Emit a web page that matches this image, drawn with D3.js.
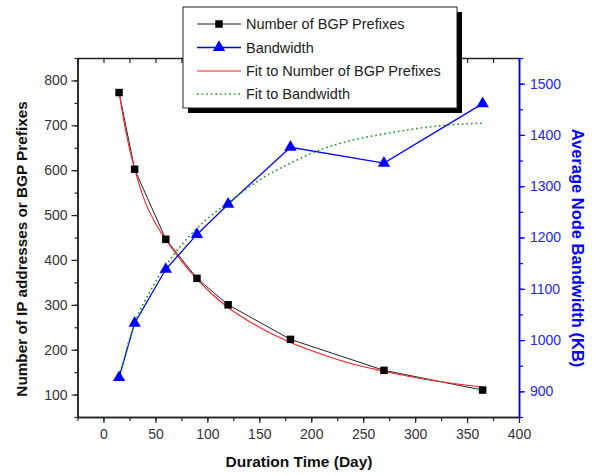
<!DOCTYPE html>
<html>
<head>
<meta charset="utf-8">
<script src="https://cdn.jsdelivr.net/npm/d3@7"></script>
<style>
  html, body { margin: 0; padding: 0; background: #fff; }
  svg { display: block; font-family: "Liberation Sans", Arial, sans-serif; }
</style>
</head>
<body>
<svg id="chart" width="595" height="475"></svg>
<script>
// ---- data ----
const days = [15, 30, 60, 90, 120, 180, 270, 365];
const prefixes = [773, 602, 446, 359, 300, 223, 154, 110];
const bandwidth = [927, 1033, 1138, 1206, 1265, 1376, 1345, 1461];

// fit curves
const fitPrefixDays = [15, 20, 25, 30, 40, 50, 60, 75, 90, 105, 120, 150, 180, 210, 240, 270, 300, 330, 365];
const fitPrefixVals = [775, 705, 648, 603, 530, 482, 445, 398, 357, 323, 294, 250, 216, 190, 168, 152, 138, 127, 117];
const fitBwDays = [15, 20, 30, 45, 60, 75, 90, 105, 120, 150, 180, 210, 240, 270, 300, 330, 365];
const fitBwVals = [922, 965, 1032, 1095, 1145, 1185, 1218, 1245, 1268, 1312, 1345, 1372, 1390, 1402, 1412, 1419, 1423];

const xTicks = [0, 50, 100, 150, 200, 250, 300, 350, 400];
const yLeftTicks = [100, 200, 300, 400, 500, 600, 700, 800];
const yRightTicks = [900, 1000, 1100, 1200, 1300, 1400, 1500];

const legendLabels = ["Number of BGP Prefixes", "Bandwidth", "Fit to Number of BGP Prefixes", "Fit to Bandwidth"];

const xTitle = "Duration Time (Day)";
const yLeftTitle = "Number of IP addresses or BGP Prefixes";
const yRightTitle = "Average Node Bandwidth (KB)";

// ---- layout ----
const L = 77.5, R = 519, T = 58, B = 417;
const BLUE = "#0000ff";

const svg = d3.select("#chart");
const x = d3.scaleLinear().domain([-25, 400]).range([L, R]);
const yL = d3.scaleLinear().domain([50, 850]).range([B, T]);
const yR = d3.scaleLinear().domain([850, 1550]).range([B, T]);

function styleAxis(g, color, textColor) {
  g.selectAll("path.domain").attr("stroke", color).attr("stroke-width", 1.5);
  g.selectAll(".tick line").attr("stroke", color).attr("stroke-width", 1.2);
  g.selectAll(".tick text").attr("fill", textColor).style("font-size", "14px")
    .style("font-family", '"Liberation Sans", Arial, sans-serif');
}

// bottom axis: minor ticks every 25
const xMinor = d3.range(-25, 401, 25);
svg.append("g").attr("transform", `translate(0,${B})`)
  .call(d3.axisBottom(x).tickValues(xMinor).tickSize(4).tickFormat("").tickSizeOuter(0))
  .call(g => styleAxis(g, "#222", "#333"));
svg.append("g").attr("transform", `translate(0,${B})`)
  .call(d3.axisBottom(x).tickValues(xTicks).tickSize(6).tickPadding(6).tickFormat(d3.format("d")).tickSizeOuter(0))
  .call(g => styleAxis(g, "#222", "#333"));

// top axis: ticks pointing inward
svg.append("g").attr("transform", `translate(0,${T})`)
  .call(d3.axisBottom(x).tickValues(xMinor).tickSize(5).tickFormat("").tickSizeOuter(0))
  .call(g => styleAxis(g, "#222", "#333"));

// left axis
svg.append("g").attr("transform", `translate(${L},0)`)
  .call(d3.axisLeft(yL).tickValues(d3.range(50, 851, 50)).tickSize(3).tickFormat("").tickSizeOuter(0))
  .call(g => styleAxis(g, "#222", "#333"));
svg.append("g").attr("transform", `translate(${L},0)`)
  .call(d3.axisLeft(yL).tickValues(yLeftTicks).tickSize(6).tickPadding(4).tickFormat(d3.format("d")).tickSizeOuter(0))
  .call(g => styleAxis(g, "#222", "#333"));

// right axis (blue)
svg.append("g").attr("transform", `translate(${R},0)`)
  .call(d3.axisRight(yR).tickValues(d3.range(850, 1551, 50)).tickSize(4).tickFormat("").tickSizeOuter(0))
  .call(g => styleAxis(g, BLUE, BLUE));
svg.append("g").attr("transform", `translate(${R},0)`)
  .call(d3.axisRight(yR).tickValues(yRightTicks).tickSize(6).tickPadding(5).tickFormat(d3.format("d")).tickSizeOuter(0))
  .call(g => styleAxis(g, BLUE, "#2222ff"));

// ---- series ----
const fitP = fitPrefixDays.map((d, i) => [d, fitPrefixVals[i]]);
const fitB = fitBwDays.map((d, i) => [d, fitBwVals[i]]);
const ptsP = days.map((d, i) => [d, prefixes[i]]);
const ptsB = days.map((d, i) => [d, bandwidth[i]]);

const lineL = d3.line().x(d => x(d[0])).y(d => yL(d[1]));
const lineR = d3.line().x(d => x(d[0])).y(d => yR(d[1]));

svg.append("path").datum(ptsP).attr("d", lineL)
  .attr("fill", "none").attr("stroke", "#222").attr("stroke-width", 1);
svg.append("path").datum(fitP).attr("d", lineL.curve(d3.curveMonotoneX))
  .attr("fill", "none").attr("stroke", "#ff2020").attr("stroke-width", 1.1);
lineL.curve(d3.curveLinear);

svg.append("path").datum(ptsB).attr("d", lineR)
  .attr("fill", "none").attr("stroke", BLUE).attr("stroke-width", 1.3);
svg.append("path").datum(fitB).attr("d", lineR.curve(d3.curveMonotoneX))
  .attr("fill", "none").attr("stroke", "#1a9a1a").attr("stroke-width", 1.6)
  .attr("stroke-dasharray", "1.6,3");
lineR.curve(d3.curveLinear);

const sq = d3.symbol().type(d3.symbolSquare).size(56);
const tri = d3.symbol().type(d3.symbolTriangle).size(66);

svg.append("g").selectAll("path").data(ptsP).join("path")
  .attr("d", sq).attr("transform", d => `translate(${x(d[0])},${yL(d[1])})`)
  .attr("fill", "#000");
svg.append("g").selectAll("path").data(ptsB).join("path")
  .attr("d", tri).attr("transform", d => `translate(${x(d[0])},${yR(d[1])})`)
  .attr("fill", BLUE);

// ---- titles ----
svg.append("text").attr("x", 299).attr("y", 467).attr("text-anchor", "middle")
  .style("font-weight", "bold").style("font-size", "15.5px").attr("fill", "#111").text(xTitle);
svg.append("text").attr("transform", `translate(27,249) rotate(-90)`).attr("text-anchor", "middle")
  .style("font-weight", "bold").style("font-size", "15.3px").attr("fill", "#111").text(yLeftTitle);
svg.append("text").attr("transform", `translate(572,248) rotate(90)`).attr("text-anchor", "middle")
  .style("font-weight", "bold").style("font-size", "16.5px").attr("fill", BLUE).text(yRightTitle);

// ---- legend ----
const lg = svg.append("g");
const bx = 183, by = 7, bw = 274, bh = 101;
lg.append("rect").attr("x", bx + 5).attr("y", by + 5).attr("width", bw).attr("height", bh).attr("fill", "#000");
lg.append("rect").attr("x", bx).attr("y", by).attr("width", bw).attr("height", bh)
  .attr("fill", "#fff").attr("stroke", "#222").attr("stroke-width", 1);
const rows = [24, 47.5, 71, 94];
const lx0 = 197, lx1 = 241, lxm = 219;
const styles = [
  {stroke: "#222", w: 1, dash: null, marker: "sq"},
  {stroke: BLUE, w: 1.3, dash: null, marker: "tri"},
  {stroke: "#ff2020", w: 1.1, dash: null, marker: null},
  {stroke: "#1a9a1a", w: 1.6, dash: "1.6,3", marker: null}
];
legendLabels.forEach((lab, i) => {
  const s = styles[i], yy = rows[i];
  lg.append("line").attr("x1", lx0).attr("x2", lx1).attr("y1", yy).attr("y2", yy)
    .attr("stroke", s.stroke).attr("stroke-width", s.w).attr("stroke-dasharray", s.dash);
  if (s.marker === "sq") lg.append("path").attr("d", sq).attr("transform", `translate(${lxm},${yy})`).attr("fill", "#000");
  if (s.marker === "tri") lg.append("path").attr("d", tri).attr("transform", `translate(${lxm},${yy})`).attr("fill", BLUE);
  lg.append("text").attr("x", 246).attr("y", yy + 5).style("font-size", "14.5px").attr("fill", "#222").text(lab);
});
</script>
</body>
</html>
